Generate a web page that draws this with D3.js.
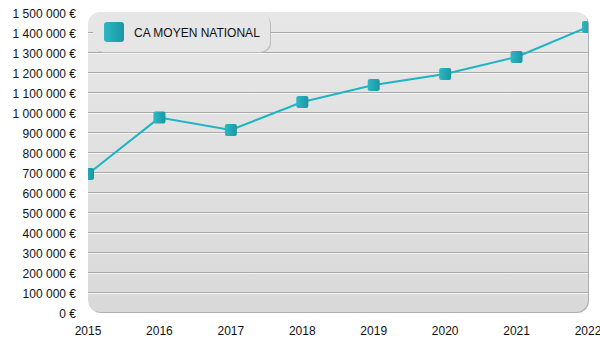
<!DOCTYPE html>
<html><head><meta charset="utf-8">
<script src="https://cdn.jsdelivr.net/npm/d3@7"></script>
<style>body{margin:0;background:#fff}svg{display:block;font-family:"Liberation Sans",Arial,Helvetica,sans-serif}</style>
</head><body><svg id="c" width="600" height="350"></svg>
<script>
const years = ["2015","2016","2017","2018","2019","2020","2021","2022"];
const values = [690000, 972000, 910000, 1050000, 1135000, 1190000, 1275000, 1425000];
const yTicks = [0,100000,200000,300000,400000,500000,600000,700000,800000,900000,1000000,1100000,1200000,1300000,1400000,1500000];
const seriesName = "CA MOYEN NATIONAL";

const svg = d3.select("#c");
const L=88, R=588, T=12, B=312;
const x = d3.scalePoint().domain(years).range([L,R]);
const y = d3.scaleLinear().domain([0,1500000]).range([B,T]);
const fmt = v => d3.format(",")(v).replace(/,/g," ") + " €";

const defs = svg.append("defs");
const bg = defs.append("linearGradient").attr("id","bg").attr("x1",0).attr("y1",0).attr("x2",0).attr("y2",1);
bg.append("stop").attr("offset","0").attr("stop-color","#e7e7e7");
bg.append("stop").attr("offset","1").attr("stop-color","#d9d9d9");
const mg = defs.append("linearGradient").attr("id","mg").attr("x1",0).attr("y1",0).attr("x2",1).attr("y2",0);
mg.append("stop").attr("offset","0").attr("stop-color","#2cb8c4");
mg.append("stop").attr("offset","1").attr("stop-color","#1b96a3");
defs.append("clipPath").attr("id","clip").append("rect")
  .attr("x",L).attr("y",T).attr("width",R-L).attr("height",B-T).attr("rx",12);

svg.append("rect").attr("x",L+1).attr("y",T+1).attr("width",R-L).attr("height",B-T).attr("rx",12).attr("fill","#b0b0b0");
svg.append("rect").attr("x",L).attr("y",T).attr("width",R-L).attr("height",B-T).attr("rx",12).attr("fill","url(#bg)");

const g = svg.append("g").attr("clip-path","url(#clip)");
const inner = yTicks.filter(d=>d>0&&d<1500000);
g.selectAll("line.gw").data(inner).join("line").attr("class","gw")
  .attr("x1",L).attr("x2",R).attr("y1",d=>y(d)+1.5).attr("y2",d=>y(d)+1.5)
  .attr("stroke","#f4f4f4").attr("stroke-width",1);
g.selectAll("line.gl").data(inner).join("line").attr("class","gl")
  .attr("x1",L).attr("x2",R).attr("y1",d=>y(d)+0.5).attr("y2",d=>y(d)+0.5)
  .attr("stroke","#a9a9a9").attr("stroke-width",1);

const pts = years.map((yr,i)=>({yr, v: values[i]}));
g.append("path").datum(pts)
  .attr("d", d3.line().x(d=>x(d.yr)).y(d=>y(d.v)))
  .attr("fill","none").attr("stroke","#1db4c6").attr("stroke-width",2);
g.selectAll("rect.m").data(pts).join("rect").attr("class","m")
  .attr("x",d=>x(d.yr)-6).attr("y",d=>y(d.v)-6).attr("width",12).attr("height",12).attr("rx",2)
  .attr("fill","url(#mg)");

svg.append("g").selectAll("text").data(yTicks).join("text")
  .attr("x",76).attr("y",d=>y(d)+1.5).attr("dy","0.35em").attr("text-anchor","end")
  .attr("font-size",12).attr("fill","#111").text(fmt);
svg.append("g").selectAll("text").data(years).join("text")
  .attr("x",d=>x(d)).attr("y",335).attr("text-anchor","middle")
  .attr("font-size",12).attr("fill","#111").text(d=>d);

svg.append("rect").attr("x",94).attr("y",14).attr("width",177).attr("height",39).attr("rx",10).attr("fill","#bcbcbc");
svg.append("rect").attr("x",93).attr("y",13).attr("width",177).attr("height",39).attr("rx",10).attr("fill","#e6e6e6");
svg.append("rect").attr("x",104).attr("y",22).attr("width",20).attr("height",20).attr("rx",3).attr("fill","url(#mg)");
svg.append("text").attr("x",134).attr("y",33).attr("dy","0.35em").attr("font-size",12).attr("fill","#111").text(seriesName);
</script></body></html>
